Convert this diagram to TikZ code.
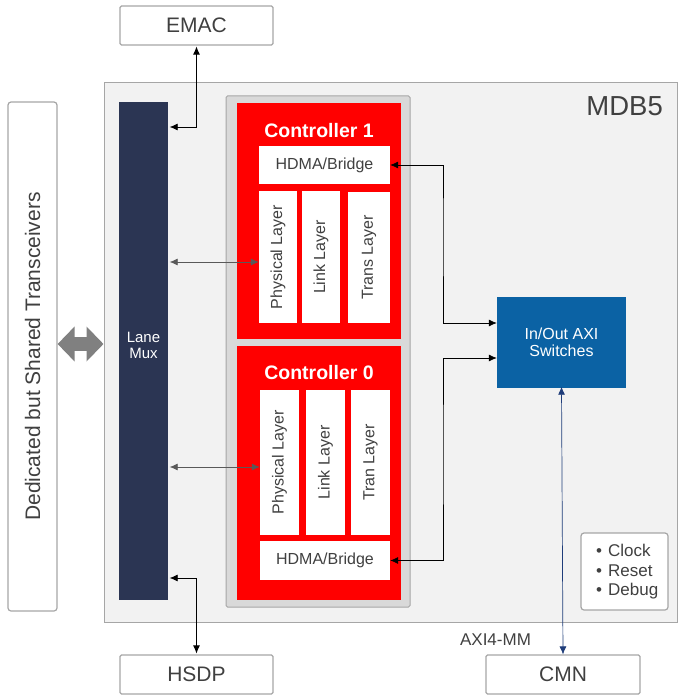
\documentclass[tikz,border=0pt]{standalone}
\usepackage{fontspec}
\setmainfont{Liberation Sans}
\usetikzlibrary{arrows.meta}
\definecolor{txt}{HTML}{404040}
\definecolor{edge}{HTML}{A6A6A6}
\definecolor{panel}{HTML}{F2F2F2}
\definecolor{tray}{HTML}{D9D9D9}
\definecolor{ctrl}{HTML}{FF0000}
\definecolor{navy}{HTML}{2B3553}
\definecolor{axiblue}{HTML}{0B62A4}
\definecolor{cmnline}{HTML}{1F3D7A}
\newcommand{\fs}[1]{\fontsize{#1}{#1}\selectfont}
\begin{document}
\begin{tikzpicture}[x=1pt,y=-1pt,
  extbox/.style={draw=edge,line width=1.2pt,fill=white,rounded corners=1.5pt,text=txt,inner sep=0pt,font=\fs{21}},
  blockbox/.style={inner sep=0pt,minimum width=#1},
  wbox/.style={fill=white,inner sep=0pt,text=txt,font=\fs{16}},
  ctitle/.style={text=white,font=\bfseries\fs{19.5},anchor=base},
  link/.style={{Latex[length=8pt,width=7pt]}-{Latex[length=8pt,width=7pt]},line width=0.7pt},
  dlink/.style={link,black!65}]
\useasboundingbox (0,0) rectangle (692,698);

% outside blocks
\node[extbox,minimum width=153,minimum height=39] (emac) at (196.5,25.5) {EMAC};
\node[extbox,minimum width=153,minimum height=39] (hsdp) at (196.5,674.5) {HSDP};
\node[extbox,minimum width=154,minimum height=39] (cmn) at (563,674.5) {CMN};
\node[extbox,rounded corners=3pt,minimum width=49,minimum height=509] (trx) at (32.5,356.5)
  {\rotatebox{90}{Dedicated but Shared Transceivers}};

% MDB5 panel
\node[draw=edge,line width=1pt,fill=panel,minimum width=573,minimum height=539,inner sep=0pt] (mdb) at (390.5,352.5) {};
\node[text=txt,font=\fs{27.5},anchor=base east,inner sep=0pt] (mdbname) at (663,115) {MDB5};

\node[fill=navy,minimum width=49,minimum height=498,inner sep=0pt] (mux) at (143.5,351) {};
\node[text=white,font=\fs{15},align=center,inner sep=0pt] (muxname) at (143.5,345) {Lane\\[1pt]Mux};

\node[draw=edge,line width=1pt,fill=tray,rounded corners=1.5pt,minimum width=184,minimum height=511,inner sep=0pt] (tray) at (318,351.5) {};

% controller 1
\node[fill=ctrl,minimum width=164,minimum height=236,inner sep=0pt] (c1) at (319,221) {};
\node[ctitle] (c1name) at (319,137) {Controller 1};
\node[wbox,minimum width=131,minimum height=38] (c1hdma) at (324.5,165) {HDMA/Bridge};
\node[wbox,minimum width=38,minimum height=132] (c1phy) at (278,257) {\rotatebox{90}{Physical Layer}};
\node[wbox,minimum width=38,minimum height=132] (c1link) at (321,257) {\rotatebox{90}{Link Layer}};
\node[wbox,minimum width=42,minimum height=131] (c1trans) at (369,257.5) {\rotatebox{90}{Trans Layer}};

% controller 0
\node[fill=ctrl,minimum width=164,minimum height=254,inner sep=0pt] (c0) at (319,473) {};
\node[ctitle] (c0name) at (319,379) {Controller 0};
\node[wbox,minimum width=39,minimum height=145] (c0phy) at (279.5,462.5) {\rotatebox{90}{Physical Layer}};
\node[wbox,minimum width=39,minimum height=145] (c0link) at (325.5,462.5) {\rotatebox{90}{Link Layer}};
\node[wbox,minimum width=39,minimum height=145] (c0tran) at (370.5,462.5) {\rotatebox{90}{Tran Layer}};
\node[wbox,minimum width=130,minimum height=39] (c0hdma) at (325,560.5) {HDMA/Bridge};

\node[fill=axiblue,text=white,font=\fs{16},align=center,minimum width=129,minimum height=91,inner sep=0pt] (axi) at (561.5,342.5) {In/Out AXI\\[1pt]Switches};

\node[extbox,rounded corners=3pt,minimum width=87,minimum height=77,font=\fs{17}] (misc) at (624.5,571.5) {};
\node[text=txt,font=\fs{17},align=left,anchor=west,inner sep=0pt] (misctext) at (596,572)
  {\textbullet\hspace{6pt}Clock\\[2.5pt]\textbullet\hspace{6pt}Reset\\[2.5pt]\textbullet\hspace{6pt}Debug};

\node[text=txt,font=\fs{17},anchor=base,inner sep=0pt] (axilabel) at (495.5,645) {AXI4-MM};

% connectors
\draw[line width=14pt,gray,{Triangle[width=34pt,length=17pt]}-{Triangle[width=34pt,length=17pt]}]
  (trx.east |- 0,344) -- (mdb.west |- 0,344);
\draw[link] ([yshift=-1pt]emac.south) |- ([xshift=1.5pt]mux.east |- 0,127);
\draw[link] ([yshift=1pt]hsdp.north) |- ([xshift=1.5pt]mux.east |- 0,578);
\draw[dlink] ([xshift=1.5pt]mux.east |- 0,262) -- (c1phy.west |- 0,262);
\draw[dlink] ([xshift=1.5pt]mux.east |- 0,467) -- (c0phy.west |- 0,467);
\draw[link] (c1hdma.east) -| (443,230) |- (axi.west |- 0,323);
\draw[link] (c0hdma.east) -| (443,450) |- (axi.west |- 0,358);
\draw[link,cmnline] ([yshift=1.5pt]axi.south) -- (cmn.north);
\end{tikzpicture}
\end{document}
